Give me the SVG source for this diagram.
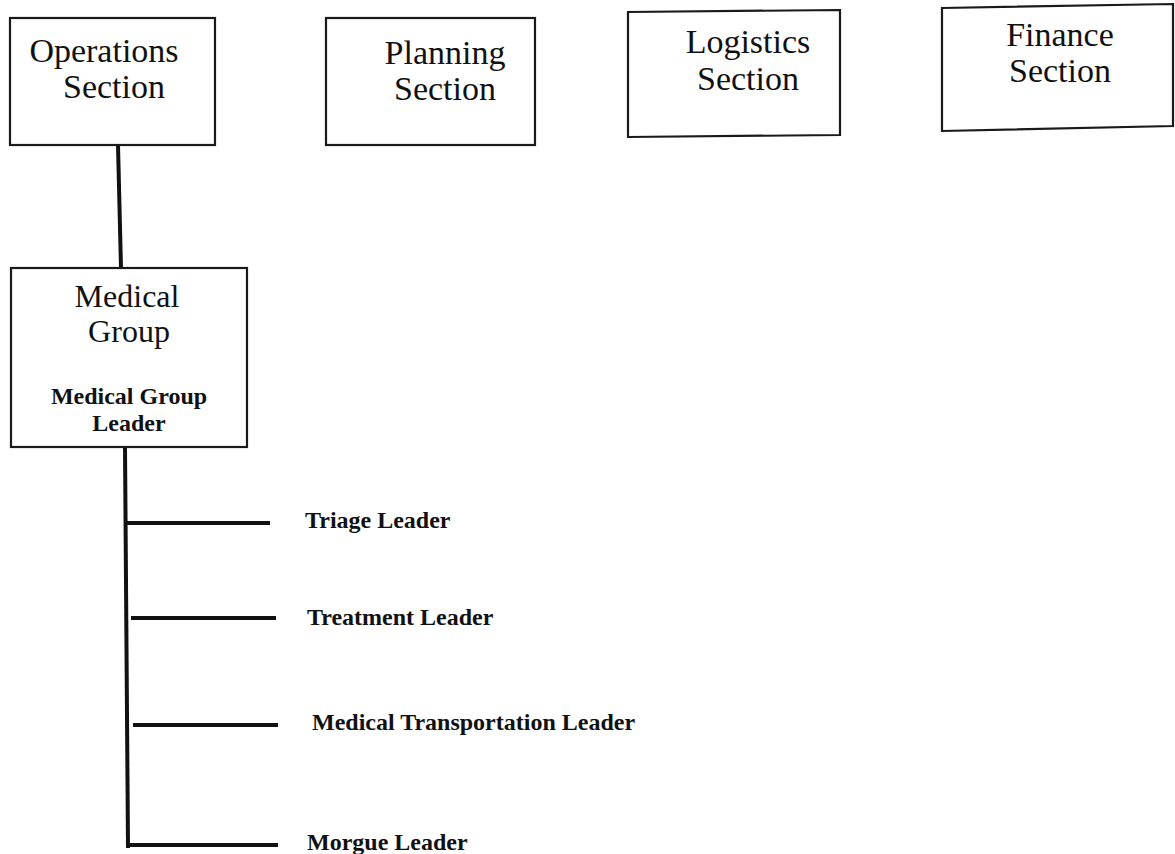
<svg xmlns="http://www.w3.org/2000/svg" width="1175" height="854" viewBox="0 0 1175 854">
  <style>
    .box { fill: #ffffff; stroke: #1a1a1a; stroke-width: 2.2; }
    .title { font-family: "Liberation Serif", "Times New Roman", serif; font-size: 34px; fill: #111111; text-anchor: middle; }
    .title-s { font-size: 32px; }
    .lead { font-family: "Liberation Serif", "Times New Roman", serif; font-size: 24px; font-weight: bold; fill: #111111; }
    .lead-c { text-anchor: middle; }
    .conn { stroke: #111111; stroke-width: 4; fill: none; stroke-linecap: butt; }
  </style>
  <rect width="1175" height="854" fill="#ffffff"/>

  <!-- connectors -->
  <g id="connectors">
    <line class="conn" x1="118" y1="145" x2="121" y2="268"/>
    <line class="conn" x1="125" y1="447" x2="128" y2="848"/>
    <line class="conn" x1="126" y1="523" x2="270" y2="523"/>
    <line class="conn" x1="131" y1="618" x2="276" y2="618"/>
    <line class="conn" x1="133" y1="725" x2="278" y2="725"/>
    <line class="conn" x1="130" y1="845" x2="278" y2="845"/>
  </g>

  <g id="operations">
    <rect class="box" x="10" y="18" width="205" height="127"/>
    <text class="title" x="104" y="62">Operations</text>
    <text class="title" x="114" y="98">Section</text>
  </g>

  <g id="planning">
    <rect class="box" x="326" y="18" width="209" height="127"/>
    <text class="title" x="445" y="64">Planning</text>
    <text class="title" x="445" y="100">Section</text>
  </g>

  <g id="logistics">
    <polygon class="box" points="628,12 840,10 840,135 628,137"/>
    <text class="title" x="748" y="53">Logistics</text>
    <text class="title" x="748" y="90">Section</text>
  </g>

  <g id="finance">
    <polygon class="box" points="942,8 1173,4 1173,126 942,131"/>
    <text class="title" x="1060" y="46">Finance</text>
    <text class="title" x="1060" y="82">Section</text>
  </g>

  <g id="medical-group">
    <rect class="box" x="11" y="268" width="236" height="179"/>
    <text class="title title-s" x="127" y="307">Medical</text>
    <text class="title title-s" x="129" y="342">Group</text>
    <text class="lead lead-c" x="129" y="404">Medical Group</text>
    <text class="lead lead-c" x="129" y="431">Leader</text>
  </g>

  <g id="triage-leader">
    <text class="lead" x="305" y="528">Triage Leader</text>
  </g>
  <g id="treatment-leader">
    <text class="lead" x="307" y="625">Treatment Leader</text>
  </g>
  <g id="transportation-leader">
    <text class="lead" x="312" y="730">Medical Transportation Leader</text>
  </g>
  <g id="morgue-leader">
    <text class="lead" x="307" y="850">Morgue Leader</text>
  </g>
</svg>
